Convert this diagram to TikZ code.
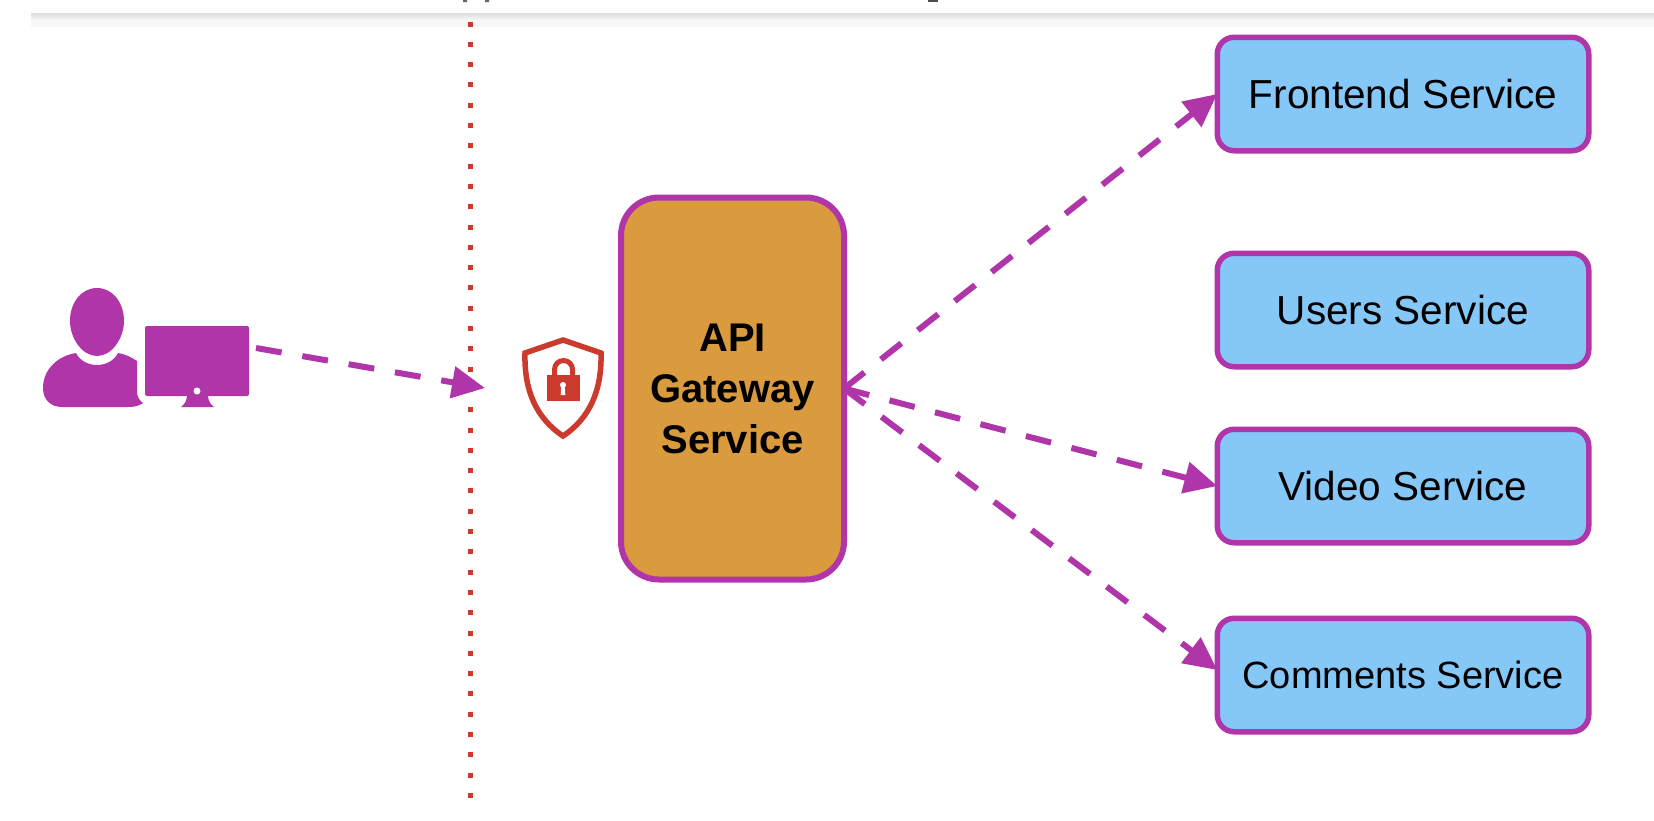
\documentclass[tikz,border=0pt]{standalone}
\usepackage{fontspec}
\setmainfont{Liberation Sans}
\usetikzlibrary{arrows.meta}
\definecolor{pur}{HTML}{B035A9}
\definecolor{sky}{HTML}{85C7F7}
\definecolor{org}{HTML}{DA9A3E}
\definecolor{rd}{HTML}{CC3A2E}
\tikzset{
  x=1pt,y=-1pt,
  svc/.style={draw=pur,line width=5.5pt,fill=sky,rounded corners=17pt,minimum width=371.5pt,minimum height=113.5pt,outer sep=0pt,inner sep=0pt,font=\fontsize{40.5}{50}\selectfont,text=black},
  gw/.style={draw=pur,line width=6pt,fill=org,rounded corners=38pt,minimum width=223pt,minimum height=382pt,outer sep=0pt,inner sep=0pt,align=center,font=\fontsize{40}{51}\selectfont\bfseries,text=black},
  link/.style={draw=pur,line width=6pt,dash pattern=on 26pt off 21pt,-{Triangle[length=33pt,width=31pt]}},
}
\begin{document}
\begin{tikzpicture}
\useasboundingbox (0,0) rectangle (1654,820);
\fill[white] (0,0) rectangle (1654,820);
% top band
\shade[top color=black!13,bottom color=black!3] (31,13) rectangle (1654,20);
\fill[black!3] (31,20) rectangle (1654,27);
% clipped glyph tails
\fill[black!60] (463,0) rectangle (467,2) (485,0) rectangle (489,2);
\fill[black!70] (928,0) rectangle (938,1.5);
% border
\draw[rd,line width=5pt,dash pattern=on 5pt off 15.3pt] (470,21.5) -- (470,798);
% nodes
\node[svc] (fe) at (1403,94) {Frontend Service};
\node[svc] (us) at (1403,310) {Users Service};
\node[svc] (vi) at (1403,486) {Video Service};
\node[svc,font=\fontsize{38}{50}\selectfont] (co) at (1403,675) {Comments Service};
\node[gw] (gate) at (732.5,388.5) {API\\Gateway\\Service};
% user
\fill[pur] (97,288) .. controls (113,288) and (124,303) .. (124,321) .. controls (124,338) and (112,356) .. (97,356) .. controls (82,356) and (70,338) .. (70,321) .. controls (70,303) and (81,288) .. (97,288) -- cycle;
\fill[pur] (76,353) .. controls (84,369) and (110,369) .. (118,353) .. controls (125,354) and (131,357) .. (137,361) -- (137,392) .. controls (137,397) and (140,401) .. (143,403) .. controls (139,406) and (134,407) .. (128,407) -- (62,407) .. controls (51,407) and (43,400) .. (43,388) .. controls (43,370) and (57,356) .. (76,353) -- cycle;
% monitor
\fill[pur,rounded corners=2pt] (145,326) rectangle (249,396);
\fill[pur] (187,395) -- (208,395) .. controls (208,400) and (210,404) .. (214,407) -- (181,407) .. controls (185,404) and (187,400) .. (187,395) -- cycle;
\fill[white] (197,391) circle (3.5);
% shield
\draw[rd,line width=5.5pt,line join=miter] (563,340) -- (601,353) .. controls (602,390) and (590,418) .. (563,436) .. controls (536,418) and (524,390) .. (525,353) -- cycle;
\fill[rd] (547,375) rectangle (580,401);
\draw[rd,line width=5pt] (554.5,376) -- (554.5,369.5) arc[start angle=180,end angle=360,radius=9] -- (572.5,376);
\fill[white] (563,385) circle (3);
\fill[white] (561.2,385) -- (564.8,385) -- (565.3,395) -- (560.7,395) -- cycle;
% connectors
\coordinate (ustart) at (256,348);
\coordinate (utip) at (485,388);
\draw[link] (ustart) -- (utip);
\draw[link] (gate.east) -- (fe.west);
\draw[link] (gate.east) -- (vi.west);
\draw[link] (gate.east) -- ([yshift=5pt]co.west);
\end{tikzpicture}
\end{document}
